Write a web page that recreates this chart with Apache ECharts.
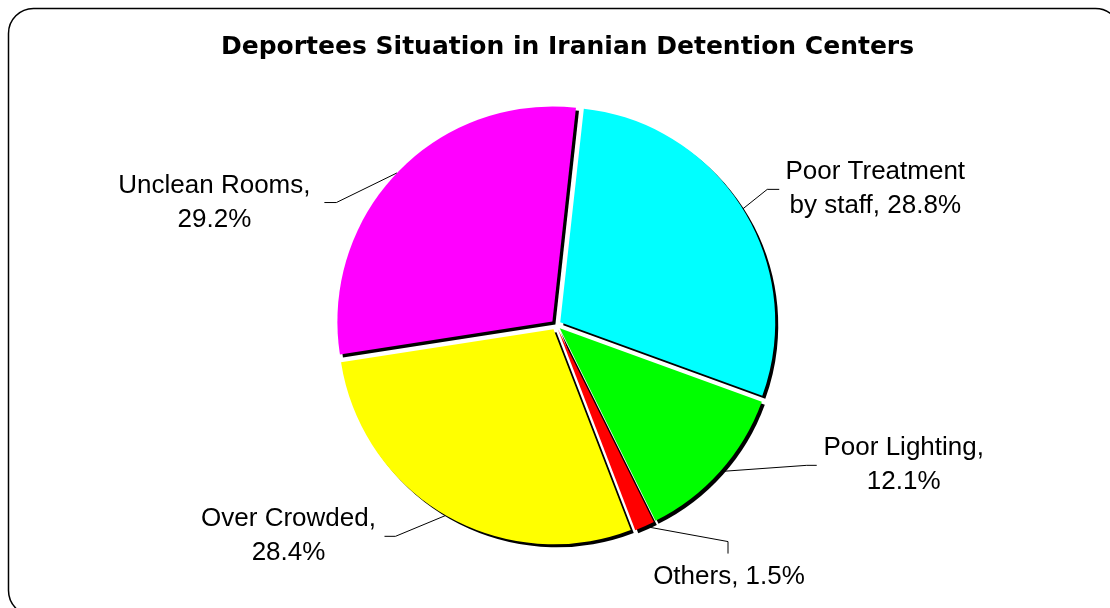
<!DOCTYPE html>
<html>
<head>
<meta charset="utf-8">
<script src="https://cdn.jsdelivr.net/npm/echarts@6/dist/echarts.min.js"></script>
<style>html,body{margin:0;padding:0;background:#fff}#c{width:1110px;height:608px}</style>
</head>
<body>
<div id="c"></div>
<script>
// ---- data ----
var categories = ['Poor Treatment\nby staff', 'Poor Lighting', 'Others', 'Over Crowded', 'Unclean Rooms'];
var percentValues = [28.8, 12.1, 1.5, 28.4, 29.2];
var sliceColors = ['#00FFFF', '#00FF00', '#FF0000', '#FFFF00', '#FF00FF'];

// ---- label layout (positions only) ----
var pieCenter = [556, 325];
var labelSeparators = [', ', ',\n', ', ', ',\n', ',\n'];
var labelCenters = [[871, 191], [900, 461], [727, 572], [291, 532], [218, 206]];
var labelKnees = [[[763, 192], [775, 192]], [[803, 462], [813, 462]], [[726, 537], [726, 549]], [[398, 532], [387, 532]], [[340, 206], [328, 206]]];

var chart = echarts.init(document.getElementById('c'));
var data = categories.map(function (n, i) {
  return { name: n, value: percentValues[i], selected: true, itemStyle: { color: sliceColors[i] } };
});
var shadow = { shadowColor: '#000', shadowBlur: 0, shadowOffsetX: 3, shadowOffsetY: 3, borderWidth: 0 };
chart.setOption({
  animation: false,
  backgroundColor: '#fff',
  title: {
    text: 'Deportees Situation in Iranian Detention Centers',
    left: 216,
    top: 30,
    textStyle: { fontFamily: 'DejaVu Sans', fontWeight: 'bold', fontSize: 25, color: '#000' }
  },
  graphic: [{
    type: 'rect', silent: true,
    shape: { x: 8.5, y: 8.5, width: 1112, height: 607, r: 25 },
    style: { fill: 'none', stroke: '#000', lineWidth: 1.5 }
  }],
  series: [{
    type: 'pie',
    center: pieCenter,
    radius: 215,
    startAngle: 83.7,
    clockwise: true,
    selectedMode: 'multiple',
    selectedOffset: 5,
    avoidLabelOverlap: false,
    data: data,
    itemStyle: shadow,
    select: { itemStyle: shadow },
    emphasis: { disabled: true },
    label: {
      show: true,
      fontFamily: 'Liberation Sans, Arial, sans-serif',
      fontSize: 26,
      lineHeight: 34,
      color: '#000',
      formatter: function (p) {
        return p.name + labelSeparators[p.dataIndex] + p.value.toFixed(1) + '%';
      }
    },
    labelLine: { show: true, lineStyle: { color: '#000', width: 1 } },
    labelLayout: function (p) {
      var i = p.dataIndex;
      var r = p.labelRect;
      var start = p.labelLinePoints ? p.labelLinePoints[0] : labelKnees[i][0];
      var isLeft = (r.x + r.width / 2) < pieCenter[0];
      var anchorX = isLeft ? r.x + r.width : r.x;
      return {
        align: 'center',
        dx: labelCenters[i][0] - anchorX,
        dy: labelCenters[i][1] - (r.y + r.height / 2),
        labelLinePoints: [start, labelKnees[i][0], labelKnees[i][1]]
      };
    }
  }]
});
</script>
</body>
</html>
